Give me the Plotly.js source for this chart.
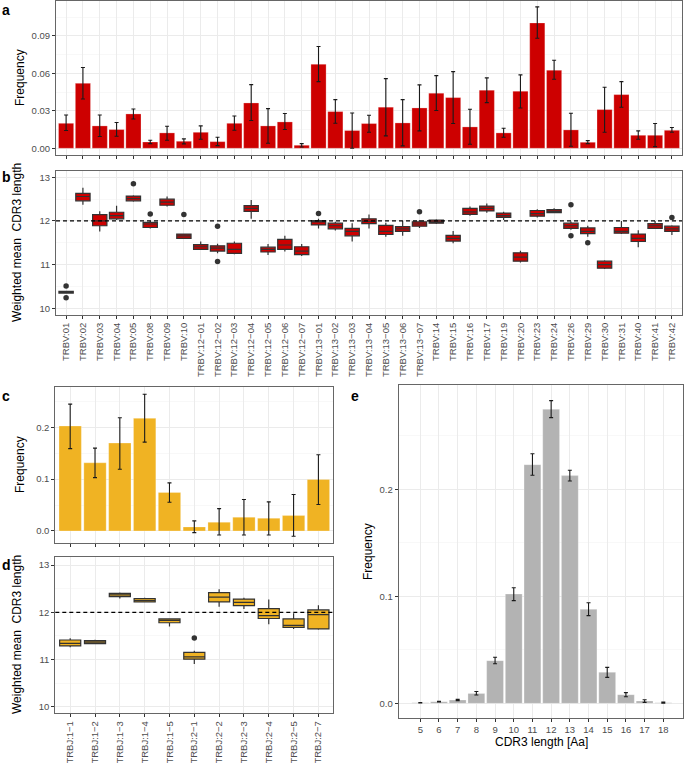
<!DOCTYPE html>
<html>
<head>
<meta charset="utf-8">
<script src="https://cdn.plot.ly/plotly-3.0.1.min.js"></script>
<style>html,body{margin:0;padding:0;background:#fff;}#chart{width:685px;height:763px;}</style>
</head>
<body>
<div id="chart"></div>
<script>
// ---------- Panel a / b : TRBV genes ----------
const trbv = ["TRBV:01","TRBV:02","TRBV:03","TRBV:04","TRBV:05","TRBV:08","TRBV:09","TRBV:10",
  "TRBV:12−01","TRBV:12−02","TRBV:12−03","TRBV:12−04","TRBV:12−05","TRBV:12−06","TRBV:12−07",
  "TRBV:13−01","TRBV:13−02","TRBV:13−03","TRBV:13−04","TRBV:13−05","TRBV:13−06","TRBV:13−07",
  "TRBV:14","TRBV:15","TRBV:16","TRBV:17","TRBV:19","TRBV:20","TRBV:23","TRBV:24","TRBV:26",
  "TRBV:29","TRBV:30","TRBV:31","TRBV:40","TRBV:41","TRBV:42"];
const aFreq = [0.020,0.052,0.0179,0.015,0.0275,0.005,0.0123,0.0056,0.0128,0.0053,0.020,0.0363,0.0179,0.0211,0.0024,0.0673,0.0294,0.0142,0.0198,0.0329,0.0203,0.0323,0.0441,0.0406,0.0171,0.0465,0.0123,0.0457,0.1004,0.0625,0.0147,0.0048,0.031,0.043,0.0104,0.0104,0.0144];
const aLow  = [0.0142,0.0395,0.0094,0.0096,0.0235,0.0037,0.0064,0.0035,0.0072,0.0021,0.0144,0.0222,0.004,0.015,0.001,0.0534,0.0200,0.0,0.0128,0.0099,0.0019,0.0139,0.0302,0.0198,0.0032,0.0366,0.0088,0.0323,0.0882,0.0553,0.0016,0.0037,0.0128,0.0329,0.0072,0.0013,0.0128];
const aHigh = [0.0267,0.0647,0.0267,0.0206,0.0315,0.0064,0.0176,0.0075,0.0179,0.0088,0.0259,0.051,0.0318,0.0278,0.0037,0.0815,0.039,0.0283,0.0264,0.0558,0.039,0.0508,0.0582,0.0614,0.0313,0.0564,0.016,0.0588,0.1133,0.0705,0.0281,0.0061,0.0489,0.0534,0.0139,0.0198,0.0166];

const bQ1  = [10.35,12.46,11.89,12.05,12.46,11.85,12.36,11.60,11.35,11.31,11.26,12.22,11.29,11.35,11.23,11.91,11.82,11.66,11.94,11.69,11.76,11.88,11.95,11.54,12.15,12.23,12.08,11.08,12.11,12.19,11.83,11.71,10.92,11.72,11.53,11.83,11.76];
const bMed = [10.37,12.56,12.00,12.12,12.51,11.93,12.43,11.66,11.41,11.38,11.35,12.29,11.35,11.45,11.31,11.98,11.89,11.76,11.99,11.76,11.82,11.93,11.98,11.60,12.21,12.29,12.12,11.17,12.17,12.22,11.89,11.76,11.00,11.76,11.60,11.89,11.82];
const bQ3  = [10.39,12.63,12.145,12.20,12.57,11.97,12.50,11.70,11.46,11.43,11.49,12.35,11.40,11.58,11.41,12.01,11.95,11.83,12.05,11.90,11.87,11.98,12.02,11.67,12.29,12.34,12.18,11.27,12.24,12.26,11.95,11.84,11.08,11.85,11.70,11.94,11.88];
const bLo  = [10.35,12.37,11.76,12.02,12.44,11.83,12.33,11.59,11.34,11.26,11.24,12.05,11.22,11.30,11.20,11.83,11.78,11.53,11.83,11.64,11.66,11.84,11.93,11.49,12.12,12.19,12.02,11.05,12.08,12.18,11.80,11.64,10.90,11.70,11.40,11.82,11.68];
const bHi  = [10.39,12.76,12.22,12.35,12.59,12.00,12.56,11.71,11.53,11.48,11.53,12.48,11.47,11.66,11.47,12.05,11.98,11.95,12.15,11.96,12.00,12.02,12.04,11.77,12.33,12.40,12.21,11.32,12.27,12.29,11.99,11.89,11.10,12.00,11.79,12.00,11.90];
const bOutX = ["TRBV:01","TRBV:01","TRBV:05","TRBV:08","TRBV:10","TRBV:12−02","TRBV:12−02","TRBV:13−01","TRBV:13−07","TRBV:26","TRBV:26","TRBV:29","TRBV:42"];
const bOutY = [10.51,10.24,12.85,12.16,12.15,11.88,11.07,12.17,12.21,12.37,11.66,11.50,12.08];

// ---------- Panel c / d : TRBJ genes ----------
const trbj = ["TRBJ:1−1","TRBJ:1−2","TRBJ:1−3","TRBJ:1−4","TRBJ:1−5","TRBJ:2−1","TRBJ:2−2","TRBJ:2−3","TRBJ:2−4","TRBJ:2−5","TRBJ:2−7"];
const cFreq = [0.2026,0.1316,0.1697,0.2174,0.0742,0.0077,0.0168,0.0265,0.0245,0.0297,0.0994];
const cLow  = [0.159,0.103,0.119,0.1716,0.0555,-0.0032,-0.0077,-0.0077,-0.0077,-0.0103,0.051];
const cHigh = [0.245,0.160,0.2187,0.264,0.0929,0.0194,0.0432,0.0606,0.0561,0.0703,0.147];

const dQ1  = [11.29,11.34,12.33,12.22,11.78,11.01,12.22,12.14,11.87,11.68,11.65];
const dMed = [11.345,11.37,12.37,12.25,11.83,11.06,12.32,12.21,11.93,11.725,11.95];
const dQ3  = [11.415,11.40,12.40,12.29,11.86,11.155,12.415,12.28,12.08,11.86,12.05];
const dLo  = [11.26,11.33,12.29,12.21,11.70,10.91,12.12,12.07,11.75,11.65,11.63];
const dHi  = [11.45,11.42,12.42,12.31,11.87,11.19,12.49,12.31,12.27,11.98,12.15];
const dOutX = ["TRBJ:2−1"];
const dOutY = [11.46];

// ---------- Panel e : CDR3 length ----------
const eLen  = [5,6,7,8,9,10,11,12,13,14,15,16,17,18];
const eFreq = [0.0006,0.0016,0.0031,0.0093,0.0399,0.1022,0.2230,0.2748,0.2128,0.0879,0.0290,0.0081,0.0022,0.0006];
const eLow  = [0.0004,0.0012,0.0025,0.0078,0.0370,0.0960,0.2131,0.2670,0.2078,0.0820,0.0243,0.0062,0.0009,0.0001];
const eHigh = [0.0008,0.0020,0.0037,0.0110,0.0430,0.1080,0.2333,0.2829,0.2178,0.0940,0.0336,0.0100,0.0034,0.0011];

// ---------- styling ----------
const RED = "#CD0000", GOLD = "#F0B323", GREY = "#B3B3B3";
const FONT = "Liberation Sans, Arial, Helvetica, sans-serif";
const TICKC = "#4D4D4D";
const up = (h, v) => h.map((x, i) => x - v[i]);
const dn = (l, v) => v.map((x, i) => x - l[i]);
const errStyle = {color: "#1A1A1A", thickness: 1.1, width: 2};

const data = [
  {type: "bar", x: trbv, y: aFreq, xaxis: "x", yaxis: "y", width: 0.9,
   marker: {color: RED, line: {color: "rgba(255,255,255,0.5)", width: 0.5}},
   error_y: Object.assign({type: "data", symmetric: false, array: up(aHigh, aFreq), arrayminus: dn(aLow, aFreq)}, errStyle)},
  {type: "box", x: trbv, q1: bQ1, median: bMed, q3: bQ3, lowerfence: bLo, upperfence: bHi,
   xaxis: "x2", yaxis: "y2", width: 0.85, whiskerwidth: 0, boxpoints: false,
   fillcolor: RED, line: {color: "#333333", width: 1.2}},
  {type: "scatter", mode: "markers", x: bOutX, y: bOutY, xaxis: "x2", yaxis: "y2",
   marker: {color: "#333333", size: 5.5}},
  {type: "bar", x: trbj, y: cFreq, xaxis: "x3", yaxis: "y3", width: 0.9,
   marker: {color: GOLD, line: {color: "rgba(255,255,255,0.5)", width: 0.5}},
   error_y: Object.assign({type: "data", symmetric: false, array: up(cHigh, cFreq), arrayminus: dn(cLow, cFreq)}, errStyle)},
  {type: "box", x: trbj, q1: dQ1, median: dMed, q3: dQ3, lowerfence: dLo, upperfence: dHi,
   xaxis: "x4", yaxis: "y4", width: 0.85, whiskerwidth: 0, boxpoints: false,
   fillcolor: GOLD, line: {color: "#333333", width: 1.2}},
  {type: "scatter", mode: "markers", x: dOutX, y: dOutY, xaxis: "x4", yaxis: "y4",
   marker: {color: "#333333", size: 5.5}},
  {type: "bar", x: eLen, y: eFreq, xaxis: "x5", yaxis: "y5", width: 0.9,
   marker: {color: GREY, line: {color: "rgba(255,255,255,0.5)", width: 0.5}},
   error_y: Object.assign({type: "data", symmetric: false, array: up(eHigh, eFreq), arrayminus: dn(eLow, eFreq)}, errStyle)}
];

const W = 685, H = 763;
const dx = (l, r) => [l / W, r / W];
const dy = (t, b) => [1 - b / H, 1 - t / H];

function baseAxis(extra) {
  return Object.assign({
    showline: true, mirror: true, linecolor: "#666666", linewidth: 1,
    ticks: "outside", ticklen: 3, tickcolor: "#333333", tickwidth: 1,
    showgrid: true, gridcolor: "#EBEBEB", gridwidth: 1, zeroline: false,
    tickfont: {family: FONT, size: 9.5, color: TICKC}, fixedrange: true
  }, extra);
}
const minor = (d) => ({dtick: d, showgrid: true, gridcolor: "#F3F3F3", gridwidth: 0.6, ticks: ""});

const layout = {
  width: W, height: H, margin: {l: 0, r: 0, t: 0, b: 0},
  paper_bgcolor: "#FFFFFF", plot_bgcolor: "#FFFFFF", showlegend: false,
  font: {family: FONT},
  xaxis: baseAxis({domain: dx(56, 682), anchor: "y", type: "category", range: [-0.6, 36.6], showticklabels: false}),
  yaxis: baseAxis({domain: dy(1, 155), anchor: "x", range: [-0.0054, 0.118], tickvals: [0, 0.03, 0.06, 0.09], tickformat: ".2f", minor: minor(0.015)}),
  xaxis2: baseAxis({domain: dx(56, 682), anchor: "y2", type: "category", range: [-0.6, 36.6], tickangle: -90}),
  yaxis2: baseAxis({domain: dy(171, 315), anchor: "x2", range: [9.847, 13.144], tickvals: [10, 11, 12, 13], minor: minor(0.5)}),
  xaxis3: baseAxis({domain: dx(55.3, 333.3), anchor: "y3", type: "category", range: [-0.6, 10.6], showticklabels: false}),
  yaxis3: baseAxis({domain: dy(387.3, 542.7), anchor: "x3", range: [-0.0227, 0.2774], tickvals: [0, 0.1, 0.2], tickformat: ".1f", minor: minor(0.05)}),
  xaxis4: baseAxis({domain: dx(55.3, 333.3), anchor: "y4", type: "category", range: [-0.6, 10.6], tickangle: -90}),
  yaxis4: baseAxis({domain: dy(557.3, 713.3), anchor: "x4", range: [9.866, 13.163], tickvals: [10, 11, 12, 13], minor: minor(0.5)}),
  xaxis5: baseAxis({domain: dx(398.7, 683.3), anchor: "y5", range: [3.845, 19.07], tickvals: eLen}),
  yaxis5: baseAxis({domain: dy(385.3, 718), anchor: "x5", range: [-0.0137, 0.2972], tickvals: [0, 0.1, 0.2], tickformat: ".1f", minor: minor(0.05)}),
  shapes: [
    {type: "line", xref: "x2 domain", x0: 0, x1: 1, yref: "y2", y0: 12, y1: 12, line: {color: "#000000", width: 1.2, dash: "4px,3px"}},
    {type: "line", xref: "x4 domain", x0: 0, x1: 1, yref: "y4", y0: 12, y1: 12, line: {color: "#000000", width: 1.2, dash: "4px,3px"}}
  ],
  annotations: []
};

function ann(text, x, y, opts) {
  return Object.assign({text: text, xref: "paper", yref: "paper", x: x / W, y: 1 - y / H,
    xanchor: "center", yanchor: "middle", showarrow: false,
    font: {family: FONT, size: 12, color: "#000000"}}, opts || {});
}
const boldF = {family: FONT, size: 14, color: "#000000"};
layout.annotations.push(
  ann("<b>a</b>", 6, 10, {font: boldF}),
  ann("<b>b</b>", 6, 177, {font: boldF}),
  ann("<b>c</b>", 6, 396, {font: boldF}),
  ann("<b>d</b>", 6, 565, {font: boldF}),
  ann("<b>e</b>", 355, 396, {font: boldF}),
  ann("Frequency", 20, 78, {textangle: -90}),
  ann("Weighted mean  CDR3 length", 17, 243, {textangle: -90}),
  ann("Frequency", 20, 465, {textangle: -90}),
  ann("Weighted mean  CDR3 length", 17, 635, {textangle: -90}),
  ann("Frequency", 368, 552, {textangle: -90}),
  ann("CDR3 length [Aa]", 541, 742)
);

Plotly.newPlot("chart", data, layout, {staticPlot: true, displayModeBar: false});
</script>
</body>
</html>
